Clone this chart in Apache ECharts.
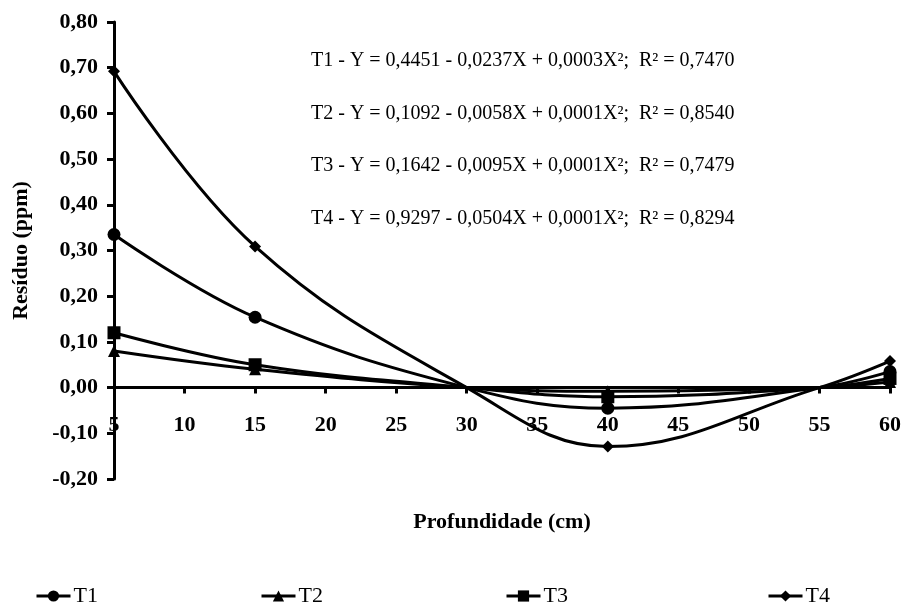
<!DOCTYPE html>
<html>
<head>
<meta charset="utf-8">
<script src="https://cdn.jsdelivr.net/npm/echarts@6/dist/echarts.min.js"></script>
<style>html,body{margin:0;padding:0;background:#fff;}#c{width:908px;height:606px;}</style>
</head>
<body>
<div id="c"></div>
<script>
// Depths (cm); 30 and 55 are the unmarked crossing points of the curves
const depths = [5, 15, 30, 40, 55, 60];
const markedDepths = [5, 15, 40, 60];
const seriesNames = ['T1', 'T2', 'T3', 'T4'];
const T1 = [0.335, 0.154, 0.0, -0.045, 0.0, 0.035];
const T2 = [0.080, 0.040, 0.0, -0.008, 0.0, 0.012];
const T3 = [0.120, 0.050, 0.0, -0.020, 0.0, 0.020];
const T4 = [0.692, 0.309, 0.0, -0.129, 0.0, 0.058];
const seriesValues = [T1, T2, T3, T4];
const symbols = ['circle', 'triangle', 'rect', 'diamond'];
const symbolSizes = [13, 12, 13, 12];
const equations = [
  'T1 - Y = 0,4451 - 0,0237X + 0,0003X²;  R² = 0,7470',
  'T2 - Y = 0,1092 - 0,0058X + 0,0001X²;  R² = 0,8540',
  'T3 - Y = 0,1642 - 0,0095X + 0,0001X²;  R² = 0,7479',
  'T4 - Y = 0,9297 - 0,0504X + 0,0001X²;  R² = 0,8294'
];
const xTitle = 'Profundidade (cm)';
const yTitle = 'Resíduo (ppm)';
const yMin = -0.2, yMax = 0.8;

const FONT = '"Liberation Serif", "Times New Roman", serif';
const GRID = { left: 114, right: 18, top: 22, bottom: 127 };
const chart = echarts.init(document.getElementById('c'));

const series = seriesNames.map((name, i) => ({
  name: name,
  type: 'line',
  smooth: 0.4,
  symbol: symbols[i],
  symbolSize: symbolSizes[i],
  lineStyle: { color: '#000', width: 3 },
  itemStyle: { color: '#000' },
  data: depths.map((d, j) => {
    const item = { value: [d, seriesValues[i][j]] };
    if (markedDepths.indexOf(d) < 0) item.symbol = 'none';
    return item;
  }),
  z: 3
}));

const legendLefts = [30, 255, 500, 762];
const legends = seriesNames.map((name, i) => ({
  data: [name],
  left: legendLefts[i],
  top: 580,
  itemWidth: 34,
  itemHeight: 14,
  itemGap: 4,
  lineStyle: { width: 3, color: '#000' },
  itemStyle: { color: '#000' },
  textStyle: { fontFamily: FONT, fontSize: 22, color: '#000', padding: [0, 0, 0, -2] }
}));

const graphics = equations.map((t, i) => ({
  type: 'text',
  left: 311,
  top: 51 + i * 52.5,
  style: { text: t, font: '20px ' + FONT, fill: '#000' }
}));

function fmt(v) {
  if (Math.abs(v) < 1e-9) v = 0;
  return v.toFixed(2).replace('.', ',');
}

// shift x axis up to the zero line
const plotH = 606 - GRID.top - GRID.bottom;
const zeroOffset = -plotH * (0 - yMin) / (yMax - yMin);

chart.setOption({
  animation: false,
  backgroundColor: '#fff',
  grid: Object.assign({ outerBoundsMode: 'none', containLabel: false }, GRID),
  legend: legends,
  graphic: graphics,
  xAxis: {
    type: 'value',
    min: 5, max: 60, interval: 5,
    position: 'bottom',
    offset: zeroOffset,
    name: xTitle,
    nameLocation: 'middle',
    nameGap: 124,
    nameTextStyle: { fontFamily: FONT, fontSize: 22, fontWeight: 'bold', color: '#000' },
    axisLine: { onZero: false, lineStyle: { color: '#000', width: 3 } },
    axisTick: { length: 6, lineStyle: { color: '#000', width: 3 } },
    axisLabel: { margin: 27, fontFamily: FONT, fontSize: 22, fontWeight: 'bold', color: '#000' },
    splitLine: { show: false }
  },
  yAxis: {
    type: 'value',
    min: yMin, max: yMax, interval: 0.1,
    name: yTitle,
    nameLocation: 'middle',
    nameGap: 82,
    nameTextStyle: { fontFamily: FONT, fontSize: 22, fontWeight: 'bold', color: '#000' },
    axisLine: { show: true, onZero: false, lineStyle: { color: '#000', width: 3 } },
    axisTick: { show: true, length: 7, lineStyle: { color: '#000', width: 3 } },
    axisLabel: { margin: 16, fontFamily: FONT, fontSize: 22, fontWeight: 'bold', color: '#000', formatter: fmt },
    splitLine: { show: false }
  },
  series: series
});
</script>
</body>
</html>
